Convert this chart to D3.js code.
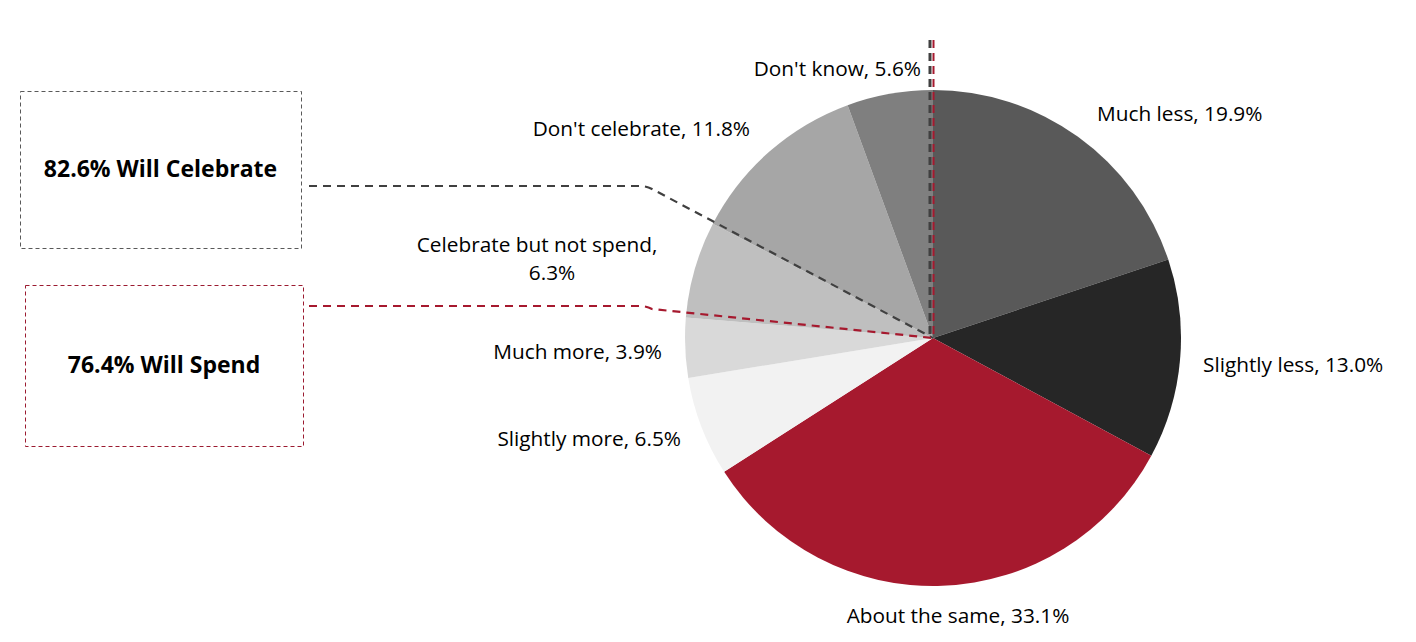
<!DOCTYPE html>
<html><head><meta charset="utf-8">
<script src="https://cdn.jsdelivr.net/npm/d3@7"></script>
<style>body{margin:0;background:#fff}svg{display:block}</style>
</head><body>
<svg id="c" width="1416" height="642"></svg>
<script>
const categories = ["Much less","Slightly less","About the same","Slightly more","Much more","Celebrate but not spend","Don't celebrate","Don't know"];
const values = [19.9,13.0,33.1,6.5,3.9,6.3,11.8,5.6];
const colors = ["#595959","#262626","#A6192E","#F2F2F2","#D9D9D9","#BFBFBF","#A6A6A6","#7F7F7F"];
const summaryLabels = ["82.6% Will Celebrate","76.4% Will Spend"];

// layout (label positions relative to pie centre)
const labelLayout = [
  {dx:164, dy:-225, anchor:"start"},
  {dx:270, dy:26, anchor:"start"},
  {dx:25, dy:277, anchor:"middle"},
  {dx:-252, dy:100, anchor:"end"},
  {dx:-271, dy:13, anchor:"end"},
  {dx:-396, dy:-94, anchor:"middle", lines:["Celebrate but not spend,","6.3%"], lineDx:[0,15]},
  {dx:-183, dy:-210, anchor:"end"},
  {dx:-12, dy:-270, anchor:"end"}
];

const svg = d3.select("#c");
const cx = 933, cy = 338, R = 248;
const font = "'Open Sans', sans-serif";

const pie = d3.pie().sort(null).value(d => d)(values);
const arc = d3.arc().innerRadius(0).outerRadius(R);
const g = svg.append("g").attr("transform", `translate(${cx},${cy})`);
g.selectAll("path").data(pie).join("path")
  .attr("d", arc).attr("fill", (d,i) => colors[i]);

// slice labels
pie.forEach((d,i) => {
  const L = labelLayout[i];
  const t = g.append("text").attr("x", L.dx).attr("y", L.dy)
    .attr("text-anchor", L.anchor).attr("dominant-baseline","central")
    .style("font-family", font).style("font-size","20.8px").attr("fill","#000");
  const lines = L.lines || [`${categories[i]}, ${values[i].toFixed(1)}%`];
  lines.forEach((s,k) => t.append("tspan")
    .attr("x", L.dx + (L.lineDx ? L.lineDx[k] : 0))
    .attr("dy", k===0 ? 0 : 28).text(s));
});

// summary boxes
const boxes = [
  {x:20, y:91, w:281, h:157, stroke:"#595959", line:"#404040", ly:186},
  {x:25, y:285, w:278, h:161, stroke:"#9B1B30", line:"#A6192E", ly:306}
];
boxes.forEach((b,i) => {
  svg.append("rect").attr("x",b.x+0.5).attr("y",b.y+0.5).attr("width",b.w).attr("height",b.h)
    .attr("fill","none").attr("stroke",b.stroke).attr("stroke-width",1).attr("stroke-dasharray","4,3");
  svg.append("text").attr("x", b.x + b.w/2).attr("y", b.y + b.h/2 - 2)
    .attr("text-anchor","middle").attr("dominant-baseline","central")
    .style("font-family", font).style("font-weight","bold").style("font-size","23px")
    .attr("fill","#000").text(summaryLabels[i]);
  svg.append("path")
    .attr("d", `M309,${b.ly} L640,${b.ly} Q646,${b.ly} 652,${b.ly+3} L${cx},${cy}`)
    .attr("fill","none").attr("stroke", b.line).attr("stroke-width",2.2).attr("stroke-dasharray","8,6");
});
// vertical dashed lines
svg.append("line").attr("x1",930).attr("x2",930).attr("y1",40).attr("y2",cy)
  .attr("stroke","#404040").attr("stroke-width",3).attr("stroke-dasharray","8,5");
svg.append("line").attr("x1",933.5).attr("x2",933.5).attr("y1",40).attr("y2",cy)
  .attr("stroke","#A6192E").attr("stroke-width",2).attr("stroke-dasharray","8,5");
</script>
</body></html>
